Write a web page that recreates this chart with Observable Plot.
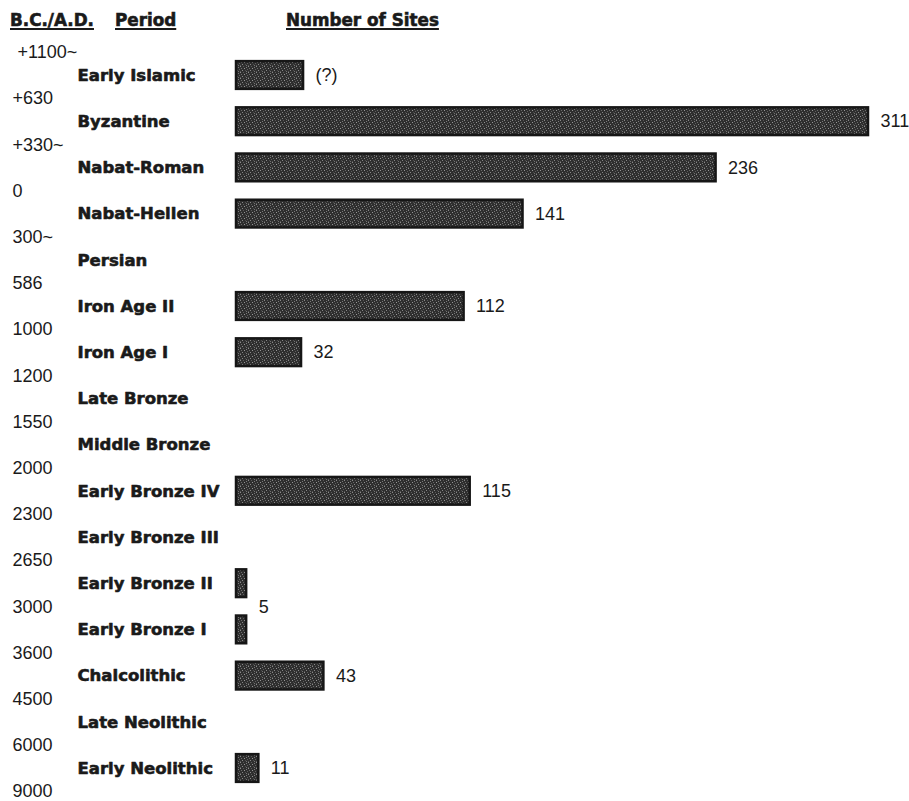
<!DOCTYPE html>
<html>
<head>
<meta charset="utf-8">
<script src="https://cdn.jsdelivr.net/npm/d3@7"></script>
<script src="https://cdn.jsdelivr.net/npm/@observablehq/plot@0.6"></script>
<style>
  html, body { margin: 0; padding: 0; background: #fff; }
  #wrap { width: 909px; height: 801px; position: relative; overflow: hidden; }
  #hdr { position: relative; height: 36px; font-family: "DejaVu Sans", sans-serif; font-weight: bold; font-size: 16.8px; color: #1a1a1a; -webkit-text-stroke: 0.6px #1a1a1a; }
  #hdr span { position: absolute; top: 11px; line-height: 18px; text-decoration: underline; text-decoration-thickness: 2px; text-underline-offset: 2px; white-space: nowrap; }
</style>
</head>
<body>
<svg width="0" height="0" style="position:absolute">
  <defs>
    <pattern id="speckle" patternUnits="userSpaceOnUse" width="8" height="6">
      <rect width="8" height="6" fill="#2e2e2e"></rect>
      <rect x="0" y="0" width="1" height="1" fill="#8a8a8a"></rect>
      <rect x="3" y="0" width="1" height="1" fill="#5a5a5a"></rect>
      <rect x="6" y="1" width="1" height="1" fill="#7a7a7a"></rect>
      <rect x="1" y="2" width="1" height="1" fill="#6a6a6a"></rect>
      <rect x="4" y="2" width="1" height="1" fill="#959595"></rect>
      <rect x="7" y="3" width="1" height="1" fill="#5e5e5e"></rect>
      <rect x="2" y="4" width="1" height="1" fill="#888888"></rect>
      <rect x="5" y="4" width="1" height="1" fill="#4e4e4e"></rect>
      <rect x="0" y="5" width="1" height="1" fill="#555555"></rect>
      <rect x="6" y="5" width="1" height="1" fill="#727272"></rect>
    </pattern>
  </defs>
</svg>
<div id="wrap">
  <div id="hdr"></div>
  <div id="chart"></div>
</div>
<script>
const headers = ["B.C./A.D.", "Period", "Number of Sites"];
const periods = ["Early Islamic", "Byzantine", "Nabat-Roman", "Nabat-Hellen", "Persian", "Iron Age II", "Iron Age I", "Late Bronze", "Middle Bronze", "Early Bronze IV", "Early Bronze III", "Early Bronze II", "Early Bronze I", "Chalcolithic", "Late Neolithic", "Early Neolithic"];
const sites = [33, 311, 236, 141, null, 112, 32, null, null, 115, null, 5, 5, 43, null, 11];
const siteLabels = ["(?)", "311", "236", "141", "", "112", "32", "", "", "115", "", "", "", "43", "", "11"];
const sharedLabel = { text: "5", periods: ["Early Bronze II", "Early Bronze I"] };
const dates = ["\u00a0+1100~", "+630", "+330~", "0", "300~", "586", "1000", "1200", "1550", "2000", "2300", "2650", "3000", "3600", "4500", "6000", "9000"];

// header
const hdr = document.getElementById("hdr");
const hdrLeft = [10, 115, 286];
headers.forEach((h, k) => {
  const s = document.createElement("span");
  s.textContent = h;
  s.style.left = hdrLeft[k] + "px";
  hdr.appendChild(s);
});

const rows = periods.map((p, i) => ({ period: p, i, sites: sites[i], label: siteLabels[i] }));
const dateRows = dates.map((d, j) => ({ d, pos: j - 0.5 }));
const sharedIdx = sharedLabel.periods.map(p => periods.indexOf(p));
const sharedRow = [{
  text: sharedLabel.text,
  pos: d3.mean(sharedIdx),
  sites: d3.max(sharedIdx, k => sites[k])
}];

const bold = "'DejaVu Sans', sans-serif";
const reg = "'Liberation Sans', Arial, sans-serif";

const chart = Plot.plot({
  width: 909,
  height: 765,
  marginLeft: 236,
  marginRight: 41,
  marginTop: 39,
  marginBottom: 33,
  x: { domain: [0, 311], axis: null },
  y: { domain: [0, 15], reverse: true, axis: null },
  style: { background: "transparent", overflow: "visible" },
  marks: [
    Plot.rectX(rows.filter(d => d.sites != null), {
      x: "sites",
      y1: d => d.i - 0.3,
      y2: d => d.i + 0.3,
      fill: "url(#speckle)",
      stroke: "#161616",
      strokeWidth: 2.5
    }),
    Plot.text(rows, {
      y: "i", text: "period", frameAnchor: "left", dx: -159, textAnchor: "start",
      fontFamily: bold, fontWeight: "bold", fontSize: 16.5, fill: "#1a1a1a",
      stroke: "#1a1a1a", strokeWidth: 0.6
    }),
    Plot.text(dateRows, {
      y: "pos", text: "d", frameAnchor: "left", dx: -224, textAnchor: "start",
      fontFamily: reg, fontSize: 18, fill: "#1a1a1a"
    }),
    Plot.text(rows.filter(d => d.label), {
      x: "sites", y: "i", text: "label", dx: 12, textAnchor: "start",
      fontFamily: reg, fontSize: 18, fill: "#1a1a1a"
    }),
    Plot.text(sharedRow, {
      x: "sites", y: "pos", text: "text", dx: 12, textAnchor: "start",
      fontFamily: reg, fontSize: 18, fill: "#1a1a1a"
    })
  ]
});
document.getElementById("chart").appendChild(chart);
</script>
</body>
</html>
